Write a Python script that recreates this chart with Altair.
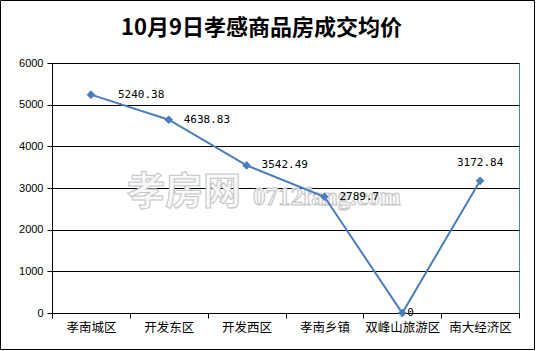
import altair as alt
import pandas as pd

categories = ["孝南城区", "开发东区", "开发西区", "孝南乡镇", "双峰山旅游区", "南大经济区"]
prices = [5240.38, 4638.83, 3542.49, 2789.7, 0, 3172.84]
labels = ["5240.38", "4638.83", "3542.49", "2789.7", "0", "3172.84"]
y_ticks = [0, 1000, 2000, 3000, 4000, 5000, 6000]
title_text = "10月9日孝感商品房成交均价"

df = pd.DataFrame({"cat": categories, "price": prices, "label": labels, "idx": list(range(len(categories)))})

BLUE = "#4a7ebb"
x = alt.X("cat:N", sort=categories, scale=alt.Scale(paddingInner=0, paddingOuter=0),
          axis=alt.Axis(title=None, labelAngle=0, tickBand="extent", tickSize=5, tickColor="black",
                        domainColor="black", labelFont="Noto Sans CJK SC", labelFontSize=12.5,
                        labelColor="black", labelPadding=3, grid=False))
y = alt.Y("price:Q", scale=alt.Scale(domain=[0, 6000], nice=False),
          axis=alt.Axis(title=None, values=y_ticks, format="d", tickSize=5, tickColor="black",
                        domainColor="black", gridColor="black", gridOpacity=1,
                        labelFont="Liberation Sans", labelFontSize=11,
                        labelColor="black", labelPadding=4))

base = alt.Chart(df)

border = alt.Chart(pd.DataFrame({"a": [0]})).mark_rect(fill=None, stroke="black", strokeWidth=1).encode(
    x=alt.value(-51.5), x2=alt.value(482.5), y=alt.value(-62.5), y2=alt.value(286.5))

title = alt.Chart(pd.DataFrame({"t": [title_text]})).mark_text(
    font="Noto Sans CJK SC", fontSize=22, fontWeight="bold", color="black",
    align="center", baseline="middle").encode(
    x=alt.value(209.5), y=alt.value(-35), text="t:N")

wm1 = alt.Chart(pd.DataFrame({"t": ["孝房网"]})).mark_text(
    font="Noto Sans CJK SC", fontSize=38, fontWeight="bold", fill="#f8f8f8", stroke="#c4c4c4",
    strokeWidth=1, align="left", baseline="middle").encode(
    x=alt.value(75), y=alt.value(130), text="t:N")
wm2 = alt.Chart(pd.DataFrame({"t": ["0712fang.com"]})).mark_text(
    font="Liberation Serif", fontSize=25, fontWeight="bold", fill="#f8f8f8", stroke="#c4c4c4",
    strokeWidth=1, align="left", baseline="middle").encode(
    x=alt.value(201), y=alt.value(134), text="t:N")

line = base.mark_line(color=BLUE, strokeWidth=2).encode(x=x, y=y)
pts = base.mark_point(shape="diamond", filled=True, color=BLUE, size=75, opacity=1).encode(x=x, y=y)

lab_font = dict(font="DejaVu Sans Mono", fontSize=11, color="black", baseline="middle")
lab_first = base.transform_filter("datum.idx == 0").mark_text(align="left", dx=27, **lab_font).encode(
    x=x, y=y, text="label:N")
lab_mid = base.transform_filter("datum.idx >= 1 && datum.idx <= 3").mark_text(align="left", dx=15, **lab_font).encode(
    x=x, y=y, text="label:N")
lab_zero = base.transform_filter("datum.idx == 4").mark_text(align="left", dx=5, **lab_font).encode(
    x=x, y=y, text="label:N")
lab_last = base.transform_filter("datum.idx == 5").mark_text(align="center", dy=-18, **lab_font).encode(
    x=x, y=y, text="label:N")

chart = alt.layer(title, wm1, wm2, line, pts, lab_first, lab_mid, lab_zero, lab_last, border).properties(
    width=467, height=250,
    autosize=alt.AutoSizeParams(type="none"),
    padding={"left": 52, "top": 63, "right": 17, "bottom": 38},
    background="white",
).configure_view(stroke=BLUE, strokeWidth=1)

chart.save("out.html", embed_options={"renderer": "svg", "actions": False})
